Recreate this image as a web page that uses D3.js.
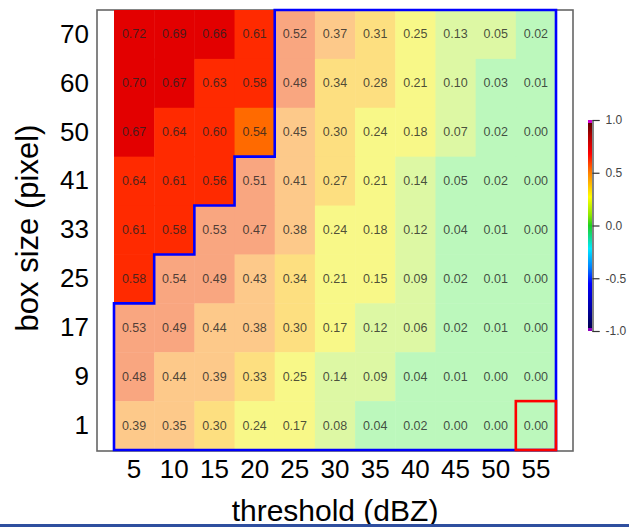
<!DOCTYPE html>
<html>
<head>
<meta charset="utf-8">
<script src="https://cdn.jsdelivr.net/npm/d3@7/dist/d3.min.js"></script>
<style>
    body { margin: 0; background: #fff; }
    svg { display: block; font-family: "Liberation Sans", Arial, sans-serif; }
</style>
</head>
<body>
<svg id="chart" width="629" height="527"></svg>
<script>
// x: threshold (dBZ), y: box size (pixel), top row first
const thresholds = [5, 10, 15, 20, 25, 30, 35, 40, 45, 50, 55];
const boxSizes = [70, 60, 50, 41, 33, 25, 17, 9, 1];

const size70 = [0.72, 0.69, 0.66, 0.61, 0.52, 0.37, 0.31, 0.249, 0.13, 0.05, 0.02];
const size60 = [0.70, 0.67, 0.63, 0.58, 0.48, 0.34, 0.28, 0.21, 0.10, 0.03, 0.01];
const size50 = [0.67, 0.64, 0.60, 0.54, 0.449, 0.30, 0.24, 0.18, 0.07, 0.02, 0.00];
const size41 = [0.64, 0.61, 0.56, 0.51, 0.41, 0.27, 0.21, 0.14, 0.049, 0.02, 0.00];
const size33 = [0.61, 0.58, 0.53, 0.47, 0.38, 0.24, 0.18, 0.12, 0.04, 0.01, 0.00];
const size25 = [0.58, 0.54, 0.49, 0.43, 0.34, 0.21, 0.15, 0.09, 0.02, 0.01, 0.00];
const size17 = [0.53, 0.49, 0.44, 0.38, 0.30, 0.17, 0.12, 0.06, 0.02, 0.01, 0.00];
const size9 = [0.48, 0.44, 0.39, 0.33, 0.249, 0.14, 0.09, 0.04, 0.01, 0.00, 0.00];
const size1 = [0.39, 0.35, 0.30, 0.24, 0.17, 0.08, 0.04, 0.02, 0.00, 0.00, 0.00];
const scores = [size70, size60, size50, size41, size33, size25, size17, size9, size1];

// how many leading thresholds in each row lie outside the blue outline
const outsideCount = [4, 4, 4, 3, 2, 1, 0, 0, 0];

// cell boxed in red
const markedThreshold = 55;
const markedSize = 1;

const colorbarTicks = [1.0, 0.5, 0.0, -0.5, -1.0];

let svg = d3.select("#chart");

let x = d3.scaleBand().domain(thresholds).range([114, 556]);
let y = d3.scaleBand().domain(boxSizes).range([10, 450]);

let bins = [0.05, 0.15, 0.25, 0.35, 0.45, 0.55, 0.65];
let strongColor = d3.scaleThreshold().domain(bins)
    .range(["#00dd00", "#99ee00", "#ffff00", "#ffc000", "#ff9000", "#ff6a00", "#ff2a00", "#e30000"]);
let fadedColor = d3.scaleThreshold().domain(bins)
    .range(["#bcf8bc", "#ddf8a4", "#f8f888", "#fddf80", "#fdc98a", "#f9a680", "#f99070", "#f08080"]);

// frame
svg.append("rect")
    .attr("x", 97)
    .attr("y", 10)
    .attr("width", 476)
    .attr("height", 441)
    .attr("fill", "white")
    .attr("stroke", "#666")
    .attr("stroke-width", 1.6);

// cells
scores.forEach((row, r) => {
    let size = boxSizes[r];
    row.forEach((v, c) => {
        let t = thresholds[c];
        svg.append("rect")
            .attr("x", x(t))
            .attr("y", y(size))
            .attr("width", x.bandwidth() + 0.5)
            .attr("height", y.bandwidth() + 0.5)
            .attr("fill", c < outsideCount[r] ? strongColor(v) : fadedColor(v));

        svg.append("text")
            .attr("x", x(t) + x.bandwidth() / 2)
            .attr("y", y(size) + y.bandwidth() / 2)
            .attr("text-anchor", "middle")
            .attr("dominant-baseline", "central")
            .attr("font-size", 12.5)
            .attr("fill", "#222")
            .attr("fill-opacity", 0.8)
            .text(v.toFixed(2));
    });
});

// blue outline
let edgeX = c => c < thresholds.length ? x(thresholds[c]) : x.range()[1];
let outline = [];
boxSizes.forEach((size, r) => {
    let ex = edgeX(outsideCount[r]);
    outline.push([ex, y(size)], [ex, y(size) + y.bandwidth()]);
});
outline.push([x.range()[1], y.range()[1]], [x.range()[1], y.range()[0]]);

svg.append("path")
    .attr("d", d3.line()(outline) + "Z")
    .attr("fill", "none")
    .attr("stroke", "#0000ff")
    .attr("stroke-width", 2.6);

// red box
svg.append("rect")
    .attr("x", x(markedThreshold))
    .attr("y", y(markedSize))
    .attr("width", x.bandwidth())
    .attr("height", y.bandwidth())
    .attr("fill", "none")
    .attr("stroke", "#ff0000")
    .attr("stroke-width", 2.6);

// axes
let xAxis = svg.append("g")
    .attr("transform", "translate(0,451)")
    .call(d3.axisBottom(x).tickSize(0).tickPadding(9));
xAxis.select(".domain").remove();
xAxis.selectAll("text")
    .attr("font-size", 26)
    .attr("font-family", "Liberation Sans, Arial, sans-serif")
    .attr("fill", "#000");

let yAxis = svg.append("g")
    .attr("transform", "translate(97,0)")
    .call(d3.axisLeft(y).tickSize(0).tickPadding(8));
yAxis.select(".domain").remove();
yAxis.selectAll("text")
    .attr("font-size", 26)
    .attr("font-family", "Liberation Sans, Arial, sans-serif")
    .attr("fill", "#000");

svg.append("text")
    .attr("x", 335)
    .attr("y", 521)
    .attr("text-anchor", "middle")
    .attr("font-size", 30)
    .text("threshold (dBZ)");

svg.append("text")
    .attr("transform", "translate(38,228) rotate(-90)")
    .attr("text-anchor", "middle")
    .attr("font-size", 31)
    .text("box size (pixel)");

// colorbar
let cb = d3.scaleLinear().domain([-1, 1]).range([331, 120]);
let stops = [
    [-1.0, "#9000c0"], [-0.975, "#9000c0"], [-0.97, "#000050"], [-0.8, "#0000a0"],
    [-0.55, "#0000ff"], [-0.4, "#0080ff"], [-0.22, "#00e8ff"], [0.0, "#20d020"],
    [0.1, "#90e800"], [0.27, "#ffff00"], [0.5, "#ff8000"], [0.68, "#ff0000"],
    [0.85, "#b00000"], [0.97, "#600000"], [0.975, "#d000d0"], [1.0, "#d000d0"]
];
let grad = svg.append("defs").append("linearGradient")
    .attr("id", "cbar")
    .attr("x1", 0).attr("y1", 1)
    .attr("x2", 0).attr("y2", 0);
grad.selectAll("stop")
    .data(stops)
    .join("stop")
    .attr("offset", d => (d[0] + 1) / 2)
    .attr("stop-color", d => d[1]);

svg.append("rect")
    .attr("x", 588)
    .attr("y", cb(1))
    .attr("width", 4)
    .attr("height", cb(-1) - cb(1))
    .attr("fill", "url(#cbar)");

let cbAxis = svg.append("g")
    .attr("transform", "translate(592.5,0)")
    .call(d3.axisRight(cb).tickValues(colorbarTicks).tickSize(7).tickPadding(6)
        .tickFormat(d => d.toFixed(1)));
cbAxis.select(".domain").attr("stroke", "#333").attr("stroke-width", 1.2);
cbAxis.selectAll("line").attr("stroke", "#333").attr("stroke-width", 1.2);
cbAxis.selectAll("text")
    .attr("font-size", 12)
    .attr("font-family", "Liberation Sans, Arial, sans-serif")
    .attr("fill", "#444");

// bottom slide rule
svg.append("rect")
    .attr("x", 0)
    .attr("y", 524)
    .attr("width", 629)
    .attr("height", 3)
    .attr("fill", "#2f4f9f");
</script>
</body>
</html>
